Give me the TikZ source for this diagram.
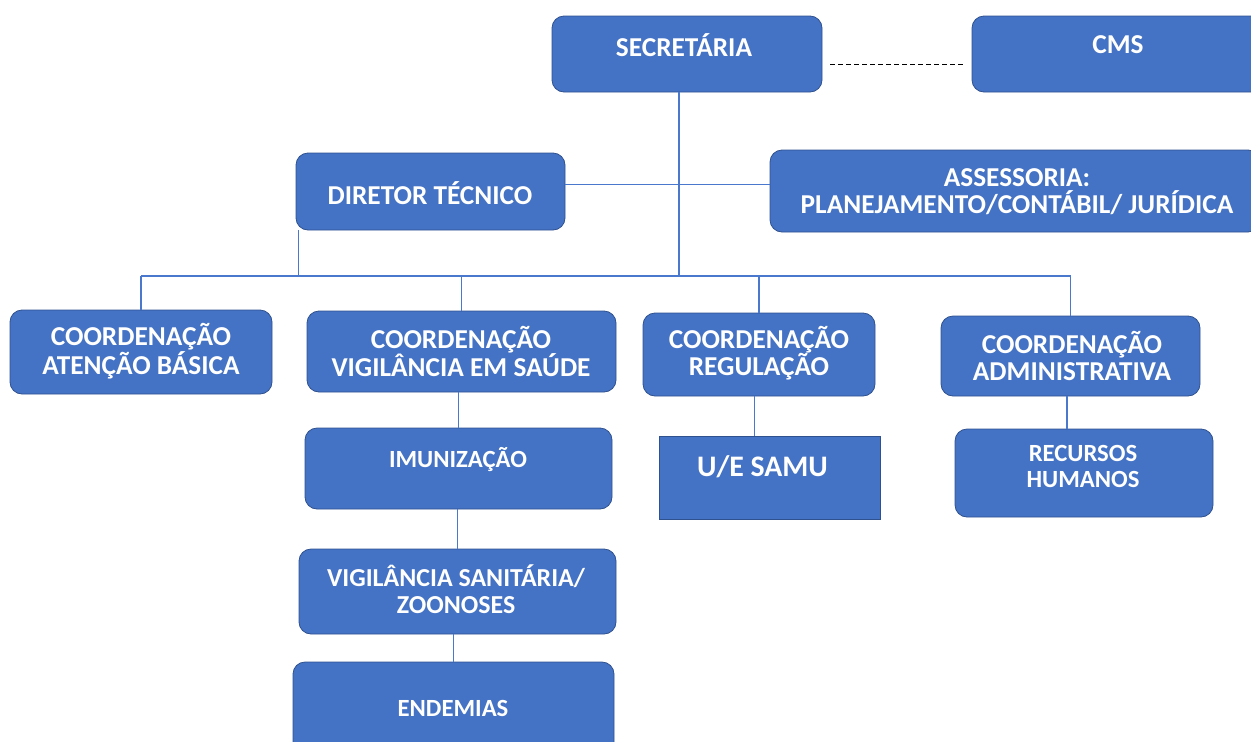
\documentclass[tikz,border=0pt]{standalone}
\usepackage{fontspec}
\setmainfont{Carlito}
\usetikzlibrary{calc}
\definecolor{boxblue}{HTML}{4472C4}
\definecolor{boxedge}{HTML}{2F528F}
\definecolor{linkblue}{HTML}{4A78CC}
\begin{document}
\begin{tikzpicture}[x=1pt,y=-1pt,
  box/.style={draw=boxedge, line width=0.8pt, fill=boxblue, rounded corners=12pt, inner sep=0pt},
  sqbox/.style={draw=boxedge, line width=0.8pt, fill=boxblue, inner sep=0pt},
  txt/.style={text=white, font=\fontsize{27.3}{27.5}\selectfont\bfseries, align=center, inner sep=0pt},
  smalltxt/.style={txt, font=\fontsize{24.7}{26.5}\selectfont\bfseries},
  link/.style={draw=linkblue, line width=1.4pt},
  dashlink/.style={draw=black, line width=1.2pt, dash pattern=on 5pt off 3pt}]
\useasboundingbox (0,0) rectangle (1251,742);
\clip (0,0) rectangle (1251,742);

% boxes
\node[box, minimum width=270pt, minimum height=76pt] (sec) at (687,54) {};
\node[box, minimum width=298pt, minimum height=76pt] (cms) at (1121,54) {};
\node[box, minimum width=269pt, minimum height=77pt] (dir) at (430.5,191.5) {};
\node[box, minimum width=490pt, minimum height=82pt] (ass) at (1015,191) {};
\node[box, minimum width=262pt, minimum height=84pt] (cab) at (141,352) {};
\node[box, minimum width=309pt, minimum height=81pt] (cvs) at (461.5,351.5) {};
\node[box, minimum width=232pt, minimum height=83pt] (cr) at (759,354.5) {};
\node[box, minimum width=259pt, minimum height=80pt] (ca) at (1070.5,356) {};
\node[box, minimum width=307pt, minimum height=81pt] (imu) at (458.5,468.5) {};
\node[box, minimum width=317pt, minimum height=85pt] (vs) at (457.5,591.5) {};
\node[box, minimum width=321pt, minimum height=98pt] (end) at (453.5,711) {};
\node[sqbox, minimum width=221pt, minimum height=83pt] (samu) at (769.5,477.5) {};
\node[box, minimum width=258pt, minimum height=88pt] (rh) at (1084,473) {};

% texts
\node[txt] (sec-t) at (684,45) {SECRETÁRIA};
\node[txt] (cms-t) at (1118,45) {CMS};
\node[txt] (dir-t) at (430,193) {DIRETOR TÉCNICO};
\node[txt] (ass-t) at (1017,191.5) {ASSESSORIA:\\PLANEJAMENTO/CONTÁBIL/ JURÍDICA};
\node[txt] (cab-t) at (141,351) {COORDENAÇÃO\\ATENÇÃO BÁSICA};
\node[txt] (cvs-t) at (461,351.5) {COORDENAÇÃO\\VIGILÂNCIA EM SAÚDE};
\node[txt] (cr-t) at (759,353) {COORDENAÇÃO\\REGULAÇÃO};
\node[txt] (ca-t) at (1072,356) {COORDENAÇÃO\\ADMINISTRATIVA};
\node[smalltxt] (imu-t) at (458,460) {IMUNIZAÇÃO};
\node[smalltxt, font=\fontsize{25.9}{26.5}\selectfont\bfseries] (vs-t) at (456,589) {VIGILÂNCIA SANITÁRIA/\\ZOONOSES};
\node[smalltxt] (end-t) at (453,708) {ENDEMIAS};
\node[txt, font=\fontsize{29.8}{30}\selectfont\bfseries] (samu-t) at (762.5,467) {U/E SAMU};
\node[smalltxt] (rh-t) at (1083,466.5) {RECURSOS\\HUMANOS};

% connectors
\coordinate (bus) at (0,276);
\coordinate (secdown) at ($(sec.south)+(-8,0)$);
\coordinate (dirmid) at ($(dir.east)+(0,-7)$);
\coordinate (dirleft) at ($(dir.south west)+(3,0)$);
\coordinate (dsh) at ($(sec.east)+(8,10.5)$);
\coordinate (dshend) at ($(dsh -| cms.west)+(-6,0)$);
\coordinate (samutop) at ($(samu.north)+(-15,0)$);
\coordinate (rhtop) at ($(rh.north)+(-17,0)$);

\draw[dashlink] (dsh) -- (dshend);
\draw[link] (secdown) -- (secdown |- bus);
\draw[link] (dirmid) -- (dirmid -| ass.west);
\draw[link] (dirleft) -- (dirleft |- bus);
\draw[link] (cab.north |- bus) -- (ca.north |- bus);
\draw[link] (cab.north |- bus) -- (cab.north);
\draw[link] (cvs.north |- bus) -- (cvs.north);
\draw[link] (cr.north |- bus) -- (cr.north);
\draw[link] (ca.north |- bus) -- (ca.north);
\draw[link] (imu.north |- cvs.south) -- (imu.north);
\draw[link] (vs.north |- imu.south) -- (vs.north);
\draw[link] (end.north |- vs.south) -- (end.north);
\draw[link] (samutop |- cr.south) -- (samutop);
\draw[link] (rhtop |- ca.south) -- (rhtop);
\end{tikzpicture}
\end{document}
